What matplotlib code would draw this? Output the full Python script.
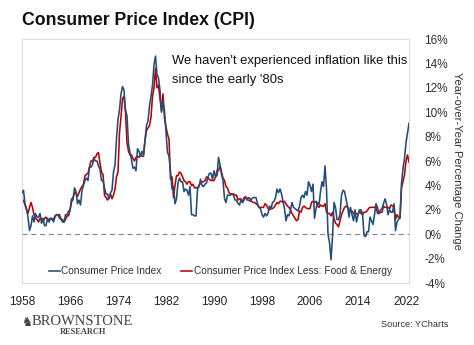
import numpy as np
import pandas as pd
import matplotlib
matplotlib.use("Agg")
import matplotlib.pyplot as plt

plt.rcParams['font.family'] = ['Liberation Sans', 'DejaVu Sans']

# quarterly year-over-year changes, % (Jan, Apr, Jul, Oct), 1958 - mid 2022
cpi = [
    3.4, 3.6, 2.5, 2.1,   1.4, 0.3, 0.7, 1.5,   1.0, 1.7, 1.4, 1.4,   1.7, 0.9, 1.3, 0.7,
    0.7, 1.3, 1.0, 1.3,   1.3, 1.0, 1.4, 1.6,   1.6, 1.3, 1.3, 1.0,   1.0, 1.6, 1.6, 1.9,
    1.9, 2.9, 2.8, 3.8,   3.5, 2.5, 2.8, 2.4,   3.6, 4.0, 4.4, 4.6,   4.4, 5.5, 5.5, 5.7,
    6.2, 6.0, 6.0, 5.6,   5.3, 4.4, 4.4, 3.8,   3.3, 3.3, 2.9, 3.4,   3.6, 5.1, 5.7, 7.8,
    9.4, 10.2, 11.5, 12.1, 11.8, 10.2, 9.7, 7.4, 6.7, 6.1, 5.4, 5.5,  5.2, 7.0, 6.8, 6.4,
    6.8, 6.5, 7.7, 8.9,   9.3, 10.5, 11.3, 12.2, 13.9, 14.6, 13.1, 12.8, 11.8, 10.0, 10.8, 10.1,
    8.4, 6.7, 6.4, 5.1,   3.7, 3.9, 2.5, 2.9,   4.2, 4.6, 4.3, 4.3,   3.5, 3.7, 3.6, 3.2,
    3.9, 1.6, 1.6, 1.5,   1.5, 3.7, 3.9, 4.5,   4.0, 3.9, 4.1, 4.2,   4.7, 5.0, 5.0, 4.5,
    5.2, 4.7, 4.8, 6.3,   5.7, 4.9, 4.4, 2.9,   2.6, 3.2, 3.2, 3.2,   3.3, 3.2, 2.8, 2.8,
    2.5, 2.4, 2.8, 2.6,   2.8, 3.1, 2.8, 2.8,   2.7, 2.9, 3.0, 3.0,   3.0, 2.5, 2.2, 2.1,
    1.6, 1.4, 1.7, 1.5,   1.7, 2.3, 2.1, 2.6,   2.7, 3.0, 3.7, 3.4,   3.7, 3.3, 2.7, 2.1,
    1.1, 1.6, 1.5, 2.0,   2.6, 2.2, 2.1, 2.0,   1.9, 2.3, 3.0, 3.2,   3.0, 3.5, 3.2, 4.3,
    4.0, 3.5, 4.1, 1.3,   2.1, 2.6, 2.4, 3.5,   4.3, 3.9, 5.6, 3.7,   0.0, -0.7, -2.1, -0.2,
    2.6, 2.2, 1.2, 1.2,   1.6, 3.2, 3.6, 3.5,   2.9, 2.3, 1.4, 2.2,   1.6, 1.1, 2.0, 1.0,
    1.6, 2.0, 2.0, 1.7,  -0.1, -0.2, 0.2, 0.2,  1.4, 1.1, 0.8, 1.6,   2.5, 2.2, 1.7, 2.0,
    2.1, 2.5, 2.9, 2.5,   1.6, 2.0, 1.8, 1.8,   2.5, 0.3, 1.0, 1.2,   1.4, 4.2, 5.4, 6.2,
    7.5, 8.3, 9.1,
]
core = [
    2.6, 2.8, 2.4, 2.0,   1.7, 2.2, 2.6, 2.2,   1.6, 1.3, 1.2, 1.0,   1.3, 1.3, 1.0, 1.3,
    1.4, 1.2, 1.2, 1.3,   1.2, 1.2, 1.5, 1.6,   1.6, 1.6, 1.2, 1.2,   1.0, 1.2, 1.5, 1.5,
    2.0, 2.6, 3.0, 3.4,   3.4, 3.1, 3.4, 3.7,   3.9, 4.1, 4.8, 4.9,   5.0, 5.5, 6.0, 6.0,
    6.3, 6.3, 6.6, 6.7,   5.8, 5.1, 4.9, 3.2,   3.0, 2.8, 3.0, 3.3,   2.9, 3.2, 3.7, 4.7,
    5.1, 8.3, 9.6, 11.1,  11.3, 10.0, 7.5, 6.8, 6.5, 6.5, 6.2, 6.0,   6.3, 6.4, 6.3, 6.5,
    6.4, 6.4, 7.7, 8.5,   8.7, 8.9, 9.6, 11.3,  12.0, 13.6, 12.0, 12.2, 11.1, 10.1, 11.5, 9.5,
    8.8, 8.2, 7.8, 4.5,   4.7, 3.0, 4.0, 4.8,   4.8, 5.1, 5.0, 4.7,   4.4, 4.3, 4.1, 4.3,
    4.3, 4.0, 4.1, 3.8,   3.8, 3.8, 4.0, 4.2,   4.3, 4.3, 4.4, 4.7,   4.6, 4.5, 4.4, 4.4,
    4.4, 4.7, 5.2, 5.2,   5.6, 5.1, 4.6, 4.4,   3.9, 3.8, 3.4, 3.3,   3.3, 3.3, 3.2, 3.2,
    2.8, 2.9, 2.9, 2.6,   3.0, 3.0, 2.9, 3.0,   2.9, 2.7, 2.6, 2.6,   2.5, 2.4, 2.2, 2.2,
    2.2, 2.2, 2.5, 2.4,   2.1, 2.0, 2.1, 2.1,   2.2, 2.4, 2.6, 2.5,   2.7, 2.7, 2.6, 2.7,
    2.5, 2.3, 2.2, 2.0,   1.7, 1.5, 1.3, 1.1,   1.2, 1.9, 1.8, 2.2,   2.3, 2.2, 2.1, 2.1,
    2.1, 2.6, 2.7, 2.6,   2.7, 2.3, 2.2, 2.4,   2.3, 2.3, 2.5, 1.8,   1.7, 1.7, 1.5, 1.8,
    1.3, 0.9, 0.8, 0.6,   1.1, 1.6, 1.9, 2.2,   2.3, 2.2, 2.0, 1.9,   1.9, 1.7, 1.7, 1.7,
    1.6, 1.9, 1.7, 1.6,   1.8, 1.8, 1.9, 2.1,   2.2, 2.2, 2.2, 2.2,   2.3, 1.7, 1.7, 1.8,
    1.8, 2.3, 2.2, 2.2,   2.2, 2.1, 2.4, 2.3,   2.3, 1.2, 1.6, 1.4,   1.3, 3.8, 4.3, 4.9,
    6.0, 6.5, 5.9,
]
year_ticks = [1958, 1966, 1974, 1982, 1990, 1998, 2006, 2014, 2022]
pct_ticks = [-4, -2, 0, 2, 4, 6, 8, 10, 12, 14, 16]

dates = pd.date_range('1958-01-01', periods=len(cpi), freq='QS')
t = dates.year + (dates.month - 1) / 12.0

fig = plt.figure(figsize=(4.74, 3.45), dpi=100)
ax = fig.add_axes([0.0464, 0.1797, 0.8165, 0.7072])

ax.axhline(0, color='#8c8c8c', lw=0.9, ls=(0, (4, 3)), zorder=1)
ax.plot(t, cpi, color='#1f4e79', lw=1.15, label='Consumer Price Index', zorder=3)
ax.plot(t, core, color='#c00000', lw=1.15,
        label='Consumer Price Index Less: Food & Energy', zorder=2)

ax.set_xlim(1958, t[-1])
ax.set_ylim(-4, 16)
ax.set_xticks(year_ticks)
ax.set_xticklabels([str(y) for y in year_ticks], fontsize=8.5, color='#222222')
ax.yaxis.tick_right()
ax.set_yticks(pct_ticks)
ax.set_yticklabels([f'{v}%' for v in pct_ticks], fontsize=8.5, color='#333333',
                   ha='left')
ax.tick_params(axis='both', length=0)
ax.tick_params(axis='y', pad=11)
ax.tick_params(axis='x', pad=9)
for s in ax.spines.values():
    s.set_color('#dddddd')
    s.set_linewidth(0.8)

ax.yaxis.set_label_position('right')
ax.set_ylabel('Year-over-Year Percentage Change', rotation=270, fontsize=8,
              color='#333333', labelpad=10)

ax.text(0.387, 0.935, "We haven't experienced inflation like this\nsince the early '80s",
        transform=ax.transAxes, fontsize=9.4, color='#111111', va='top', linespacing=1.75)

ax.legend(loc='lower left', bbox_to_anchor=(0.045, -0.01), ncol=2, frameon=False,
          fontsize=7.3, handlelength=1.1, handletextpad=0.15, columnspacing=1.9,
          labelcolor='#333333')

fig.text(0.046, 0.94, 'Consumer Price Index (CPI)', fontsize=12.7, fontweight='bold',
         color='#111111', va='center')

# logo and source at the bottom
fig.text(0.044, 0.066, '\u265e', fontsize=9, color='#444444', va='center',
         family='DejaVu Sans')
fig.text(0.067, 0.068, 'BROWNSTONE', fontsize=10.5, color='#444444', va='center',
         family='Liberation Serif')
fig.text(0.126, 0.038, 'RESEARCH', fontsize=6, color='#444444', va='center',
         family='Liberation Serif', fontweight='bold')
fig.text(0.945, 0.06, 'Source: YCharts', fontsize=6.6, color='#333333', va='center',
         ha='right')

fig.savefig('out.png', dpi=100, facecolor='white')
